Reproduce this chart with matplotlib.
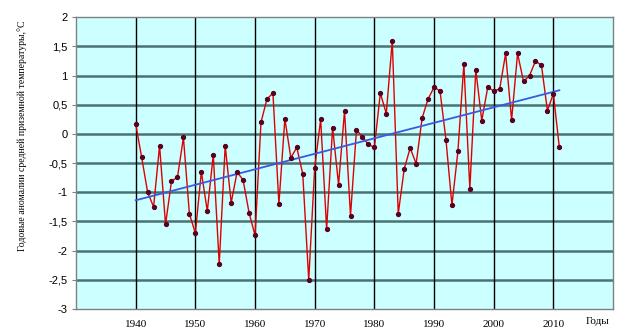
import numpy as np
import matplotlib
matplotlib.use("Agg")
import matplotlib.pyplot as plt
from matplotlib.ticker import FuncFormatter

years = list(range(1940, 2012))
anomalies = [
    0.17, -0.40, -1.00, -1.25, -0.20, -1.55, -0.81, -0.74, -0.06, -1.37,
    -1.70, -0.65, -1.32, -0.36, -2.23, -0.20, -1.18, -0.65, -0.79, -1.35,
    -1.74, 0.20, 0.60, 0.70, -1.20, 0.26, -0.41, -0.23, -0.69, -2.50,
    -0.58, 0.25, -1.63, 0.11, -0.87, 0.40, -1.40, 0.07, -0.05, -0.18,
    -0.23, 0.70, 0.35, 1.60, -1.37, -0.60, -0.24, -0.51, 0.27, 0.60,
    0.80, 0.74, -0.10, -1.22, -0.30, 1.20, -0.94, 1.10, 0.23, 0.80,
    0.74, 0.77, 1.38, 0.24, 1.38, 0.90, 1.00, 1.25, 1.18, 0.40,
    0.69, -0.23,
]
xticks = list(range(1940, 2011, 10))
yticks = [2, 1.5, 1, 0.5, 0, -0.5, -1, -1.5, -2, -2.5, -3]
ylabel = "Годовые аномалии средней приземной температуры,°С"
xlabel = "Годы"

x = np.array(years)
y = np.array(anomalies)
k, b = np.polyfit(x, y, 1)

fig = plt.figure(figsize=(6.32, 3.31), dpi=100)
ax = fig.add_axes([0.1203, 0.0665, 0.8497, 0.8812])
ax.set_facecolor("#CCFFFF")
ax.set_xlim(1930, 2020)
ax.set_ylim(-3, 2)

for yt in yticks:
    if -3 < yt < 2:
        ax.axhline(yt, color="#4A7373", lw=1.8, zorder=1)
for xt in xticks:
    ax.axvline(xt, color="black", lw=1.0, zorder=1)

ax.plot(x, y, color="#DD0000", lw=1.0, zorder=3)
ax.plot(x, y, linestyle="none", marker="o", ms=2.8, color="#5A0020", zorder=4)
ax.plot([x[0], x[-1]], [k * x[0] + b, k * x[-1] + b], color="#3A5AE0", lw=1.3, zorder=3.5)

ax.set_xticks(xticks)
ax.set_yticks(yticks)
ax.yaxis.set_major_formatter(FuncFormatter(lambda v, p: ("%g" % v).replace(".", ",")))
ax.tick_params(axis="x", length=0, pad=8, labelsize=8)
ax.tick_params(axis="y", length=3, width=0.8, pad=3, labelsize=8, color="#808080")
for lab in ax.get_xticklabels():
    lab.set_family("Liberation Serif")
for lab in ax.get_yticklabels():
    lab.set_family("Liberation Sans")
for s in ax.spines.values():
    s.set_color("#808080")
    s.set_linewidth(1.0)

fig.text(0.035, 0.59, ylabel, rotation=90, ha="center", va="center",
         family="Liberation Serif", fontsize=7)
fig.text(0.946, 0.030, xlabel, ha="center", va="center",
         family="Liberation Serif", fontsize=8)

fig.savefig("out.png", dpi=100, facecolor="white")
